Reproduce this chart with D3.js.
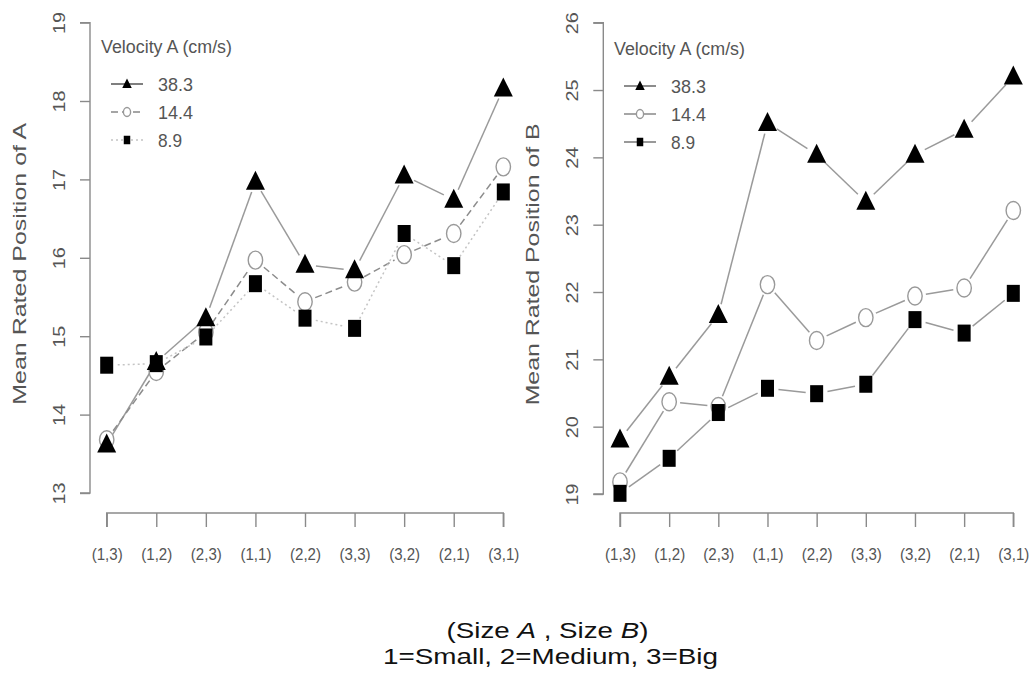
<!DOCTYPE html>
<html>
<head>
<meta charset="utf-8">
<script src="https://cdn.jsdelivr.net/npm/d3@7"></script>
<style>
  body { margin: 0; background: #fff; }
  svg text { font-family: "Liberation Sans", Arial, sans-serif; }
</style>
</head>
<body>
<div id="app"></div>
<script>
// categories: (Size A, Size B)
const categories = ["(1,3)", "(1,2)", "(2,3)", "(1,1)", "(2,2)", "(3,3)", "(3,2)", "(2,1)", "(3,1)"];
const velocities = ["38.3", "14.4", "8.9"];

// panel A: Mean Rated Position of A
const posA_383 = [13.62, 14.67, 15.23, 16.97, 15.91, 15.84, 17.05, 16.74, 18.16];
const posA_144 = [13.68, 14.55, 15.05, 15.97, 15.44, 15.69, 16.04, 16.31, 17.16];
const posA_89  = [14.63, 14.65, 14.99, 15.67, 15.23, 15.10, 16.31, 15.90, 16.84];

// panel B: Mean Rated Position of B
const posB_383 = [19.81, 20.74, 21.66, 24.51, 24.04, 23.34, 24.04, 24.41, 25.20];
const posB_144 = [19.18, 20.37, 20.30, 22.11, 21.28, 21.62, 21.94, 22.06, 23.21];
const posB_89  = [19.01, 19.53, 20.21, 20.57, 20.49, 20.63, 21.59, 21.39, 21.98];

const ticksA = [13, 14, 15, 16, 17, 18, 19];
const ticksB = [19, 20, 21, 22, 23, 24, 25, 26];

const w = 1034, h = 679;

const svg = d3.select("#app")
  .append("svg")
  .attr("width", w)
  .attr("height", h);

const axisGrey = "#8a8a8a";
const lineGrey = "#9a9a9a";
const textGrey = "#555";

// the original picture is squeezed sideways, so texts get fitted lengths
function fit(sel, len) {
  sel.attr("textLength", len).attr("lengthAdjust", "spacingAndGlyphs");
}

// marker shapes (taller than wide, like the original)
function marker(g, kind, x, y, s) {
  if (kind === "tri") {
    g.append("path")
      .attr("d", `M${x},${y - 11 * s} L${x + 9.5 * s},${y + 8 * s} L${x - 9.5 * s},${y + 8 * s} Z`)
      .attr("fill", "#000");
  } else if (kind === "circ") {
    g.append("ellipse")
      .attr("cx", x).attr("cy", y)
      .attr("rx", 7.2 * s).attr("ry", 9 * s)
      .attr("fill", "#fff")
      .attr("stroke", "#999")
      .attr("stroke-width", 1.4);
  } else {
    g.append("rect")
      .attr("x", x - 6.5 * s).attr("y", y - 8.5 * s)
      .attr("width", 13 * s).attr("height", 17 * s)
      .attr("fill", "#000");
  }
}

function drawPanel(cfg) {
  const g = svg.append("g");

  const x = d3.scalePoint()
    .domain(categories)
    .range(cfg.xRange);

  const y = d3.scaleLinear()
    .domain(cfg.yDomain)
    .range(cfg.yRange);

  // y axis
  const yAxis = d3.axisLeft(y)
    .tickValues(cfg.yTicks)
    .tickSize(10)
    .tickFormat(d3.format("d"));

  const ya = g.append("g")
    .attr("transform", `translate(${cfg.yAxisX},0)`)
    .call(yAxis);
  ya.select(".domain").attr("stroke", axisGrey).attr("stroke-width", 1.4)
    .attr("d", `M-10,${y(cfg.yDomain[1])}H0V${y(cfg.yDomain[0])}H-10`);
  ya.selectAll(".tick line").attr("stroke", axisGrey).attr("stroke-width", 1.4);
  ya.selectAll(".tick text")
    .attr("fill", textGrey)
    .attr("font-size", 16.5)
    .attr("x", 0).attr("dy", 0)
    .attr("text-anchor", "middle")
    .attr("transform", `translate(-31,0) rotate(-90)`)
    .attr("dominant-baseline", "central")
    .call(fit, 22);

  // x axis
  const xAxis = d3.axisBottom(x).tickSize(14).tickPadding(28);
  const xa = g.append("g")
    .attr("transform", `translate(0,${cfg.xAxisY})`)
    .call(xAxis);
  xa.select(".domain").attr("stroke", axisGrey).attr("stroke-width", 1.4)
    .attr("d", `M${cfg.xRange[0]},14V0H${cfg.xRange[1]}V14`);
  xa.selectAll(".tick line").attr("stroke", axisGrey).attr("stroke-width", 1.4);
  xa.selectAll(".tick text")
    .attr("fill", textGrey)
    .attr("font-size", 17)
    .attr("dy", "0.3em")
    .call(fit, 31);

  // y title
  g.append("text")
    .attr("transform", `translate(${cfg.titleX},${(cfg.yRange[0] + cfg.yRange[1]) / 2 + 6}) rotate(-90)`)
    .attr("text-anchor", "middle")
    .attr("dominant-baseline", "central")
    .attr("font-size", 18)
    .attr("fill", textGrey)
    .text(cfg.title)
    .call(fit, 282);

  // lines with gaps near the points (type = "b")
  const gap = 11;
  cfg.series.forEach(s => {
    const pts = s.values.map((v, i) => [x(categories[i]), y(v)]);
    for (let i = 0; i < pts.length - 1; i++) {
      const [x1, y1] = pts[i], [x2, y2] = pts[i + 1];
      const len = Math.hypot(x2 - x1, y2 - y1);
      if (len <= 2 * gap) continue;
      const ux = (x2 - x1) / len, uy = (y2 - y1) / len;
      g.append("line")
        .attr("x1", x1 + ux * gap).attr("y1", y1 + uy * gap)
        .attr("x2", x2 - ux * gap).attr("y2", y2 - uy * gap)
        .attr("stroke", s.color)
        .attr("stroke-width", 1.5)
        .attr("stroke-dasharray", s.dash);
    }
  });

  // points, drawn in the order circle, triangle, square
  ["circ", "tri", "sq"].forEach(kind => {
    const s = cfg.series.find(d => d.kind === kind);
    s.values.forEach((v, i) => marker(g, kind, x(categories[i]), y(v), 1));
  });

  // legend
  const lg = g.append("g");
  lg.append("text")
    .attr("x", cfg.legend.x)
    .attr("y", cfg.legend.y)
    .attr("font-size", 18)
    .attr("fill", textGrey)
    .text("Velocity A (cm/s)")
    .call(fit, 131);

  cfg.series.forEach((s, i) => {
    const ly = cfg.legend.y + 31 + i * 28;
    const lx = cfg.legend.x + 10;
    lg.append("line")
      .attr("x1", lx).attr("x2", lx + 32)
      .attr("y1", ly).attr("y2", ly)
      .attr("stroke", s.legendColor)
      .attr("stroke-width", 1.5)
      .attr("stroke-dasharray", s.dash);
    marker(lg, s.kind, lx + 16, ly, 0.5);
    lg.append("text")
      .attr("x", lx + 47)
      .attr("y", ly)
      .attr("dominant-baseline", "central")
      .attr("font-size", 19)
      .attr("fill", textGrey)
      .text(velocities[i])
      .call(fit, velocities[i].length === 4 ? 35 : 24);
  });
}

drawPanel({
  xRange: [106.7, 503.3],
  yDomain: [13, 19],
  yRange: [493, 22.6],
  yTicks: ticksA,
  yAxisX: 90,
  xAxisY: 513,
  titleX: 20,
  title: "Mean Rated Position of A",
  legend: { x: 101, y: 53 },
  series: [
    { kind: "tri", values: posA_383, color: lineGrey, legendColor: "#555", dash: null },
    { kind: "circ", values: posA_144, color: "#8c8c8c", legendColor: "#888", dash: "7,4" },
    { kind: "sq", values: posA_89, color: "#c4c4c4", legendColor: "#c4c4c4", dash: "2,3" }
  ]
});

drawPanel({
  xRange: [620, 1013.3],
  yDomain: [19, 26],
  yRange: [494, 22.7],
  yTicks: ticksB,
  yAxisX: 603.3,
  xAxisY: 513,
  titleX: 533,
  title: "Mean Rated Position of B",
  legend: { x: 614, y: 55 },
  series: [
    { kind: "tri", values: posB_383, color: lineGrey, legendColor: "#666", dash: null },
    { kind: "circ", values: posB_144, color: lineGrey, legendColor: "#888", dash: null },
    { kind: "sq", values: posB_89, color: lineGrey, legendColor: "#777", dash: null }
  ]
});

// shared x caption
const cap = svg.append("text")
  .attr("x", 547.5)
  .attr("y", 638)
  .attr("text-anchor", "middle")
  .attr("font-size", 22.5)
  .attr("fill", "#111");
cap.append("tspan").text("(Size ");
cap.append("tspan").attr("font-style", "italic").text("A");
cap.append("tspan").text(" , Size ");
cap.append("tspan").attr("font-style", "italic").text("B");
cap.append("tspan").text(")");
// stretch to the measured width of the original
const capW = cap.node().getComputedTextLength();
cap.attr("x", 0)
  .attr("transform", `translate(547.5,0) scale(${202 / capW},1)`);

svg.append("text")
  .attr("x", 550.5)
  .attr("y", 663.5)
  .attr("text-anchor", "middle")
  .attr("font-size", 22.5)
  .attr("fill", "#111")
  .text("1=Small, 2=Medium, 3=Big")
  .call(fit, 335);
</script>
</body>
</html>
